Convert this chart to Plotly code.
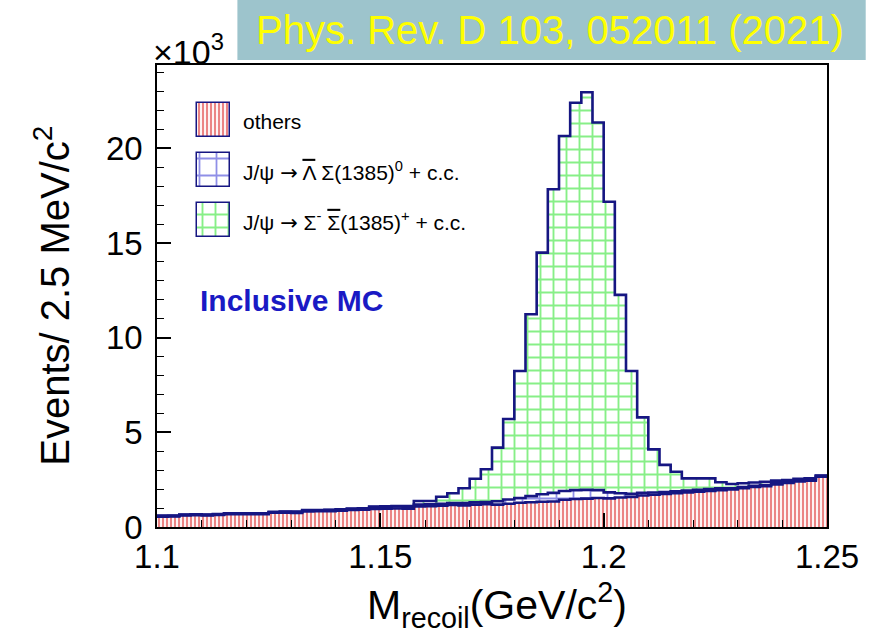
import numpy as np
import plotly.graph_objects as go

# ---------------- data (thousands of events per 2.5 MeV/c^2 bin) ----------------
x_min, x_max, bin_width = 1.10, 1.25, 0.0025

others = [0.55, 0.56, 0.61, 0.62, 0.61, 0.63, 0.67, 0.67, 0.68, 0.67,
          0.75, 0.75, 0.74, 0.82, 0.83, 0.84, 0.86, 0.90, 0.92, 0.95,
          0.96, 0.98, 0.97, 1.08, 1.10, 1.13, 1.16, 1.14, 1.18, 1.20,
          1.18, 1.23, 1.28, 1.31, 1.33, 1.35, 1.44, 1.48, 1.50, 1.53,
          1.51, 1.56, 1.59, 1.66, 1.70, 1.74, 1.78, 1.82, 1.86, 1.90,
          1.94, 1.98, 2.05, 2.12, 2.16, 2.25, 2.32, 2.40, 2.45, 2.65]

lam_sigma0 = [0.03, 0.03, 0.03, 0.03, 0.03, 0.03, 0.03, 0.03, 0.03, 0.03,
              0.03, 0.05, 0.05, 0.05, 0.05, 0.05, 0.05, 0.05, 0.05, 0.10,
              0.10, 0.10, 0.10, 0.10, 0.10, 0.10, 0.10, 0.12, 0.12, 0.12,
              0.18, 0.22, 0.25, 0.32, 0.40, 0.45, 0.46, 0.47, 0.46, 0.42,
              0.32, 0.22, 0.16, 0.14, 0.12, 0.10, 0.10, 0.10, 0.10, 0.10,
              0.10, 0.06, 0.06, 0.06, 0.06, 0.06, 0.06, 0.06, 0.06, 0.06]

sigma_sigmap = [0.02, 0.02, 0.02, 0.02, 0.02, 0.02, 0.02, 0.02, 0.02, 0.02,
                0.02, 0.02, 0.02, 0.02, 0.02, 0.02, 0.02, 0.02, 0.02, 0.03,
                0.03, 0.03, 0.03, 0.19, 0.17, 0.37, 0.52, 0.79, 1.25, 1.73,
                2.83, 4.25, 6.71, 9.61, 12.76, 16.04, 18.75, 20.46, 21.00, 19.41,
                15.35, 10.48, 6.49, 3.99, 2.28, 1.44, 1.04, 0.65, 0.61, 0.57,
                0.32, 0.23, 0.20, 0.17, 0.17, 0.14, 0.10, 0.09, 0.06, 0.01]

x_tickvals = [1.10, 1.15, 1.20, 1.25]
x_ticktext = ["1.1", "1.15", "1.2", "1.25"]
y_tickvals = [0, 5, 10, 15, 20]
y_ticktext = ["0", "5", "10", "15", "20"]

OVL = '<span style="text-decoration:overline">{}</span>'
ARROW = '<span style="font-family:DejaVu Sans">→</span>'
legend_labels = ["others",
                 "J/ψ " + ARROW + " " + OVL.format("Λ") + " Σ(1385)<sup>0</sup> + c.c.",
                 "J/ψ " + ARROW + " Σ<sup>-</sup> " + OVL.format("Σ") + "(1385)<sup>+</sup> + c.c."]

# ---------------- derived ----------------
nb = len(others)
edges = x_min + bin_width * np.arange(nb + 1)
centers = 0.5 * (edges[:-1] + edges[1:])
o = np.array(others)
b = np.array(lam_sigma0)
g = np.array(sigma_sigmap)
cum1 = o
cum2 = o + b
cum3 = o + b + g

NAVY = "#161682"
RED = "#d80a0a"
BLUE = "#2020d0"
GREEN = "#10e010"
FONT = "Liberation Sans, Arial, Helvetica, sans-serif"

pat_others = dict(shape="|", fgcolor=RED, bgcolor="white", size=4, solidity=0.55)
pat_blue = dict(shape="+", fgcolor=BLUE, bgcolor="white", size=17, solidity=0.2)
pat_green = dict(shape="+", fgcolor=GREEN, bgcolor="white", size=13, solidity=0.27)

fig = go.Figure()
fig.add_bar(x=centers, y=o, base=np.zeros(nb), width=bin_width,
            marker=dict(color="white", pattern=pat_others, line=dict(width=0)))
fig.add_bar(x=centers, y=b, base=cum1, width=bin_width,
            marker=dict(color="white", pattern=pat_blue, line=dict(width=0)))
fig.add_bar(x=centers, y=g, base=cum2, width=bin_width,
            marker=dict(color="white", pattern=pat_green, line=dict(width=0)))

for cum in (cum1, cum2, cum3):
    fig.add_scatter(x=edges, y=np.append(cum, cum[-1]), mode="lines",
                    line=dict(color=NAVY, width=2.6, shape="hv"),
                    hoverinfo="skip")

# ---------------- pixel helpers for decorations ----------------
L, R, T, B = 157, 832, 65, 527
W, H = 871, 639


def px(x):
    return (x - L) / (R - L)


def py(y):
    return (B - y) / (B - T)


# legend boxes drawn on an auxiliary pixel-coordinate axis pair
box_tops = [103, 153, 203]
pats = [pat_others, pat_blue, pat_green]
for top, pat in zip(box_tops, pats):
    fig.add_bar(x=[214], y=[34], base=[top], width=[34], xaxis="x2", yaxis="y2",
                marker=dict(color="white", pattern=pat, line=dict(color=NAVY, width=1.5)))


def ann(x, y, text, size, color="black", xanchor="center", family=FONT, **kw):
    return dict(x=px(x), y=py(y), xref="paper", yref="paper", text=text,
                showarrow=False, xanchor=xanchor, yanchor="middle",
                font=dict(family=family, size=size, color=color), **kw)


annotations = []
for top, lab in zip(box_tops, legend_labels):
    annotations.append(ann(242, top + 18, lab, 21, xanchor="left"))

annotations += [
    ann(293, 300, "<b>Inclusive MC</b>", 30, color="#1a1ac4"),
    ann(151, 50, "×10<sup>3</sup>", 34, xanchor="left"),
    ann(553, 30, "Phys. Rev. D 103, 052011 (2021)", 40, color="#ffff00"),
    ann(51, 296, "Events/ 2.5 MeV/c<sup>2</sup>", 40, textangle=-90),
    ann(500, 605, "M<sub>recoil</sub>(GeV/c<sup>2</sup>)", 41),
]

shapes = [dict(type="rect", xref="paper", yref="paper", x0=px(238), x1=px(871),
               y0=py(60), y1=py(0), fillcolor="#9dc4cc", line=dict(width=0), layer="below")]

fig.update_layout(
    width=W, height=H,
    margin=dict(l=L, r=W - R, t=T, b=H - B),
    barmode="overlay", bargap=0,
    plot_bgcolor="white", paper_bgcolor="white",
    showlegend=False,
    annotations=annotations, shapes=shapes,
    xaxis=dict(range=[x_min, x_max], tickvals=x_tickvals, ticktext=x_ticktext,
               ticks="inside", ticklen=14, tickwidth=1.5, tickcolor="black",
               minor=dict(tickmode="linear", tick0=x_min, dtick=0.01, ticks="inside",
                          ticklen=7, tickwidth=1.2, tickcolor="black"),
               showline=True, mirror=True, linecolor="black", linewidth=1.5,
               showgrid=False, zeroline=False, ticklabelstandoff=0,
               tickfont=dict(family=FONT, size=33, color="black")),
    yaxis=dict(range=[0, 24.4], tickvals=y_tickvals, ticktext=y_ticktext,
               ticks="inside", ticklen=14, tickwidth=1.5, tickcolor="black",
               minor=dict(tickmode="linear", tick0=0, dtick=1, ticks="inside",
                          ticklen=7, tickwidth=1.2, tickcolor="black"),
               showline=True, mirror=True, linecolor="black", linewidth=1.5,
               showgrid=False, zeroline=False, ticklabelstandoff=6,
               tickfont=dict(family=FONT, size=33, color="black")),
    xaxis2=dict(range=[L, R], domain=[0, 1], anchor="y2", overlaying="x", visible=False),
    yaxis2=dict(range=[B, T], domain=[0, 1], anchor="x2", overlaying="y", visible=False),
)

fig.write_html("out.html")
